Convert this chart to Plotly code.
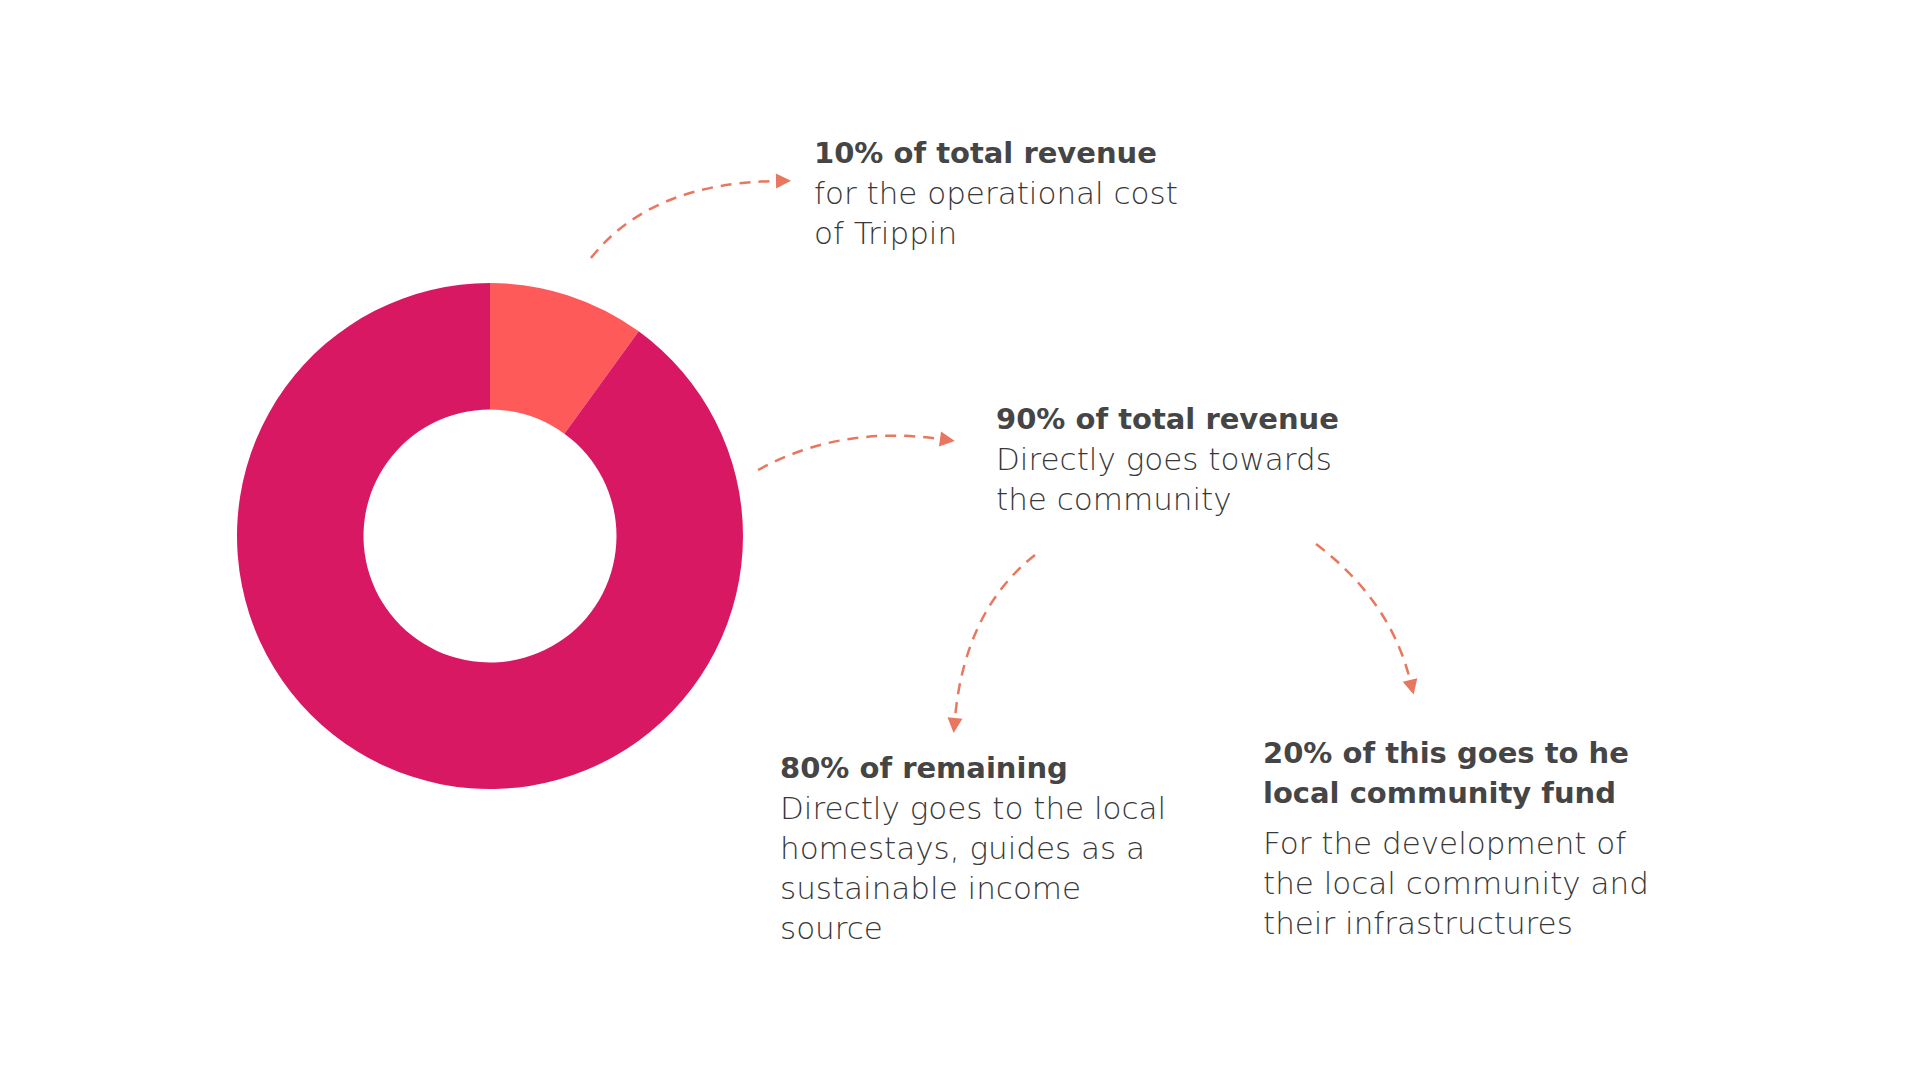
import math
import plotly.graph_objects as go

# ---- data ----
slice_labels = ["Operational cost of Trippin", "Community"]
slice_values = [10, 90]
slice_colors = ["#FF5A5A", "#D81862"]

block_headers = [
    ["10% of total revenue"],
    ["90% of total revenue"],
    ["80% of remaining"],
    ["20% of this goes to he", "local community fund"],
]
block_bodies = [
    ["for the operational cost", "of Trippin"],
    ["Directly goes towards", "the community"],
    ["Directly goes to the local", "homestays, guides as a", "sustainable income", "source"],
    ["For the development of", "the local community and", "their infrastructures"],
]

# ---- layout helpers (pixel positions) ----
W, H = 1920, 1080
ARROW_COLOR = "#E9775F"
HEAD_FONT = dict(family="DejaVu Sans", size=29, color="#454545", weight=700)
BODY_FONT = dict(family="DejaVu Sans", size=31, color="#383838", weight=200)
LINE = 40

block_pos = [(812, 153), (994, 419), (778, 768), (1261, 753)]
body_gap = [40, 40, 40, 50]

arrows = [
    ((591, 258), (650, 183), (776, 181)),
    ((758, 470), (840, 425), (940, 439)),
    ((1035, 555), (965, 610), (955, 718)),
    ((1316, 544), (1390, 600), (1410, 680)),
]

fig = go.Figure()

cx, cy, r = 490, 536, 253
fig.add_trace(go.Pie(
    labels=slice_labels, values=slice_values, hole=0.5, sort=False,
    direction="clockwise", rotation=0,
    marker=dict(colors=slice_colors, line=dict(width=0)),
    textinfo="none", hoverinfo="label+percent", showlegend=False,
    domain=dict(x=[(cx - r) / W, (cx + r) / W], y=[(H - cy - r) / H, (H - cy + r) / H]),
))

annotations = []
for (x0, y0), heads, bodies, gap in zip(block_pos, block_headers, block_bodies, body_gap):
    y = y0
    for line in heads:
        annotations.append(dict(x=x0, y=y, xref="x", yref="y", text=line, showarrow=False,
                                xanchor="left", yanchor="middle", font=HEAD_FONT))
        y += LINE
    y = y - LINE + gap
    for line in bodies:
        annotations.append(dict(x=x0, y=y, xref="x", yref="y", text=line, showarrow=False,
                                xanchor="left", yanchor="middle", font=BODY_FONT))
        y += LINE

shapes = []
for (p0, c, p1) in arrows:
    shapes.append(dict(type="path", xref="x", yref="y",
                       path=f"M {p0[0]},{p0[1]} Q {c[0]},{c[1]} {p1[0]},{p1[1]}",
                       line=dict(color=ARROW_COLOR, width=2.5, dash="11px,8px")))
    dx, dy = p1[0] - c[0], p1[1] - c[1]
    n = math.hypot(dx, dy)
    ux, uy = dx / n, dy / n
    px, py = -uy, ux
    L, hw = 15, 7.5
    tip = (p1[0] + ux * L, p1[1] + uy * L)
    b1 = (p1[0] + px * hw, p1[1] + py * hw)
    b2 = (p1[0] - px * hw, p1[1] - py * hw)
    shapes.append(dict(type="path", xref="x", yref="y",
                       path=f"M {tip[0]},{tip[1]} L {b1[0]},{b1[1]} L {b2[0]},{b2[1]} Z",
                       fillcolor=ARROW_COLOR, line=dict(color=ARROW_COLOR, width=0)))

fig.update_layout(
    width=W, height=H, margin=dict(l=0, r=0, t=0, b=0),
    paper_bgcolor="white", plot_bgcolor="white",
    xaxis=dict(range=[0, W], visible=False, domain=[0, 1], fixedrange=True),
    yaxis=dict(range=[H, 0], visible=False, domain=[0, 1], fixedrange=True),
    annotations=annotations, shapes=shapes, showlegend=False,
)

fig.write_html("out.html")
